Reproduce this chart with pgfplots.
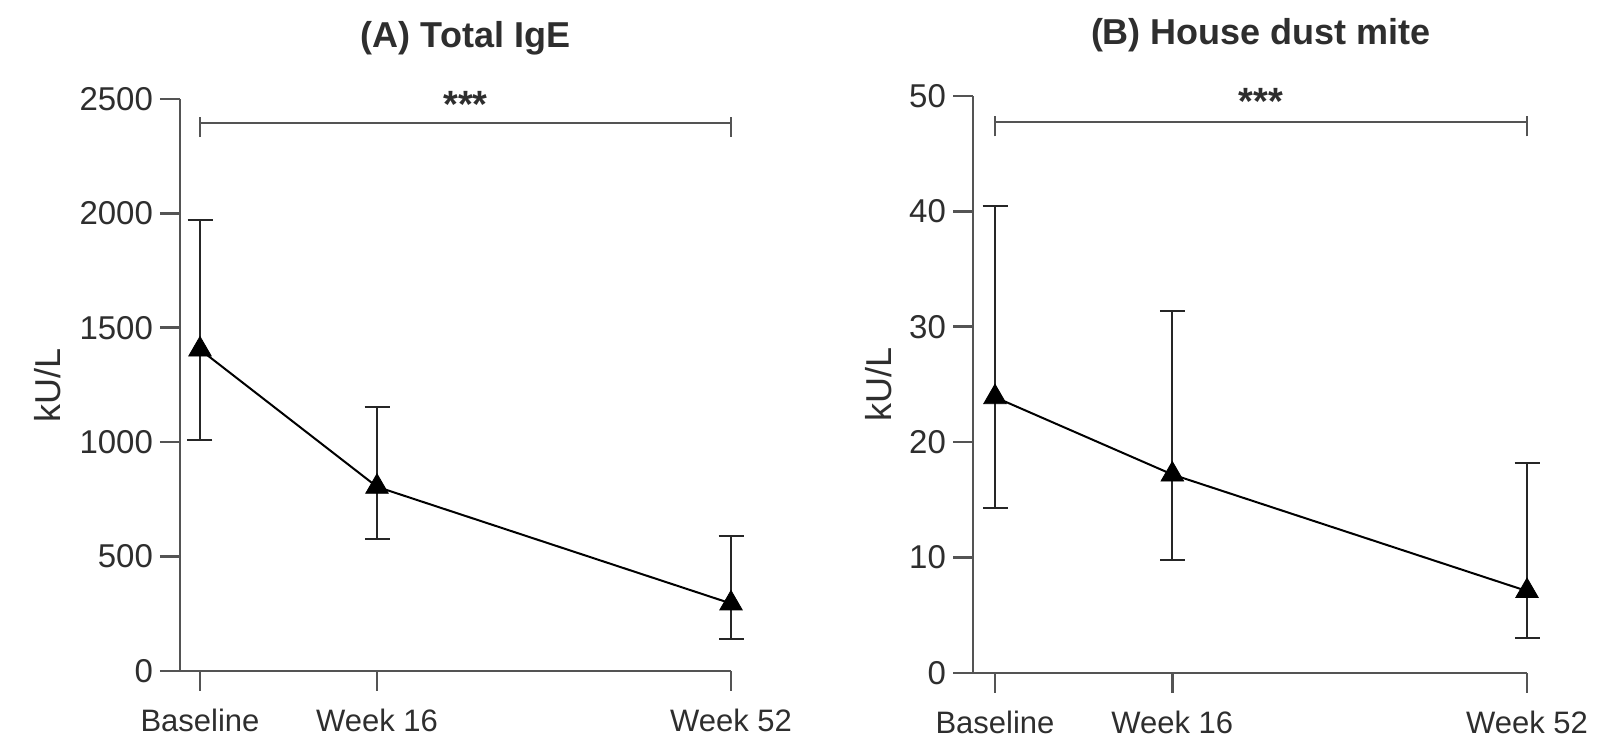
\documentclass[border=0pt]{standalone}
\usepackage{fontspec}
\setmainfont{Liberation Sans}
\usepackage{pgfplots}
\pgfplotsset{compat=1.18}

\definecolor{axgray}{gray}{0.33}
\definecolor{txtgray}{gray}{0.18}

\pgfplotsset{
  panel/.style={
    scale only axis, anchor=south west,
    axis x line*=bottom, axis y line*=left,
    axis line style={-, draw=axgray, line width=1.3pt},
    tick style={draw=axgray, line width=1.3pt},
    tick align=outside, major tick length=10pt,
    xtick={0,1,3}, xticklabels={Baseline, Week 16, Week 52},
    xmax=3, ymin=0,
    clip=false,
    /pgf/number format/assume math mode=true,
    /pgf/number format/1000 sep={},
    yticklabel style={font=\fontsize{16.5}{18}\selectfont, text=txtgray},
    xticklabel style={font=\fontsize{15.5}{17}\selectfont, text=txtgray, yshift=-5.5pt},
    ylabel={kU/L},
  },
  dataline/.style={black, line width=1pt, mark=triangle*, mark size=6.5pt,
    mark options={solid, line width=0.4pt},
    error bars/.cd, y dir=both, y explicit,
    error bar style={black!85, line width=1pt},
    error mark options={rotate=90, mark size=6.25pt, line width=1pt, black!85}},
  sig/.style={axgray, line width=1.1pt, forget plot},
}

\begin{document}
\begin{tikzpicture}
\useasboundingbox (0,0) rectangle (803pt,371pt);

% ---------- (A) Total IgE ----------
\begin{axis}[panel,
  at={(90pt,35.5pt)}, width=275.5pt, height=286pt,
  xmin=-0.113, ymax=2500, ytick={0,500,1000,1500,2000,2500},
  ylabel style={font=\fontsize{18}{20}\selectfont, text=txtgray,
    at={(axis description cs:-0.2396,0.5)}, anchor=center},
]
\addplot[sig] coordinates {(0,2335) (0,2423)};
\addplot[sig] coordinates {(0,2396) (3,2396)};
\addplot[sig] coordinates {(3,2335) (3,2423)};
\addplot[dataline] coordinates {
  (0,1405) += (0,565) -= (0,395)
  (1,805)  += (0,350) -= (0,229)
  (3,295)  += (0,295) -= (0,155)
};
\node[font=\fontsize{18}{20}\selectfont\bfseries, text=txtgray] at (axis cs:1.5,2765) {(A) Total IgE};
\node[font=\fontsize{19}{21}\selectfont\bfseries, text=txtgray, anchor=base] at (axis cs:1.5,2421) {***};
\end{axis}

% ---------- (B) House dust mite ----------
\begin{axis}[panel,
  at={(486.5pt,34.5pt)}, width=277pt, height=288.5pt,
  xmin=-0.124, ymax=50, ytick={0,10,20,30,40,50},
  ylabel style={font=\fontsize{18}{20}\selectfont, text=txtgray,
    at={(axis description cs:-0.171,0.5)}, anchor=center},
]
\addplot[sig] coordinates {(0,46.5) (0,48.3)};
\addplot[sig] coordinates {(0,47.75) (3,47.75)};
\addplot[sig] coordinates {(3,46.5) (3,48.3)};
\addplot[dataline] coordinates {
  (0,23.9) += (0,16.6) -= (0,9.6)
  (1,17.2) += (0,14.2) -= (0,7.4)
  (3,7.1)  += (0,11.1) -= (0,4.1)
};
\node[font=\fontsize{18}{20}\selectfont\bfseries, text=txtgray] at (axis cs:1.5,55.3) {(B) House dust mite};
\node[font=\fontsize{19}{21}\selectfont\bfseries, text=txtgray, anchor=base] at (axis cs:1.5,48.4) {***};
\end{axis}
\end{tikzpicture}
\end{document}
